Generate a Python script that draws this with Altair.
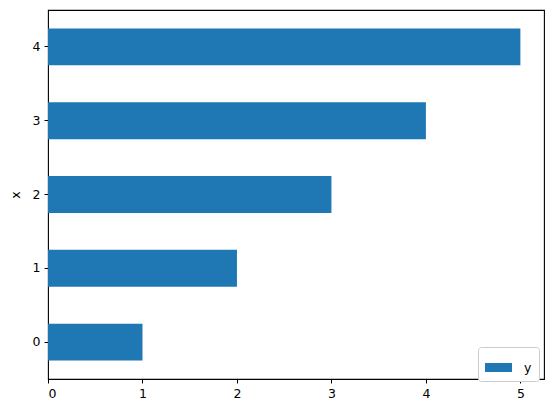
import altair as alt
import pandas as pd

categories = [0, 1, 2, 3, 4]
values = [1, 2, 3, 4, 5]
series_name = ["y"] * 5

df = pd.DataFrame({"x": categories, "y": values, "series": series_name})

font = "DejaVu Sans"

chart = alt.Chart(df).mark_bar(color="#1f77b4").encode(
    y=alt.Y("x:O", sort="descending",
            scale=alt.Scale(paddingInner=0.5, paddingOuter=0.25),
            axis=alt.Axis(title="x", labelAngle=0, titlePadding=10)),
    x=alt.X("y:Q", scale=alt.Scale(domain=[0, 5.25], nice=False),
            axis=alt.Axis(title=None, values=[0, 1, 2, 3, 4, 5], format="d")),
    color=alt.Color("series:N", scale=alt.Scale(range=["#1f77b4"]),
                    legend=alt.Legend(title=None, orient="none", legendX=430, legendY=337,
                                      fillColor="white", strokeColor="#cccccc",
                                      cornerRadius=3, padding=7,
                                      symbolType="M-1,-0.333H1V0.333H-1Z", symbolSize=729,
                                      symbolStrokeWidth=0, symbolOffset=0,
                                      labelFont=font, labelFontSize=12.5, labelColor="black",
                                      labelOffset=12)),
).properties(
    width=496, height=369,
    autosize=alt.AutoSizeParams(type="none"),
    padding={"left": 40, "top": 2, "right": 2, "bottom": 26},
).configure_view(
    stroke="black", strokeWidth=1.1
).configure_axis(
    grid=False, domain=False, tickColor="black", tickSize=4, tickWidth=1,
    labelFont=font, labelFontSize=12.5, labelColor="black", labelPadding=4,
    titleFont=font, titleFontSize=12.5, titleColor="black", titleFontWeight="normal",
)

chart.save("out.html", embed_options={"renderer": "svg", "actions": False})
